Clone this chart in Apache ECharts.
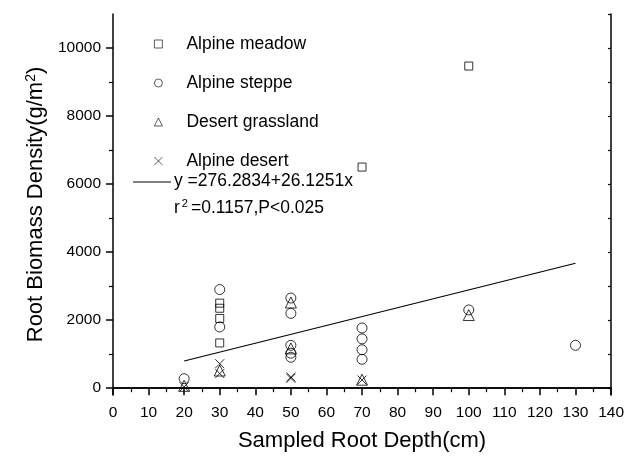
<!DOCTYPE html>
<html><head><meta charset="utf-8">
<script src="https://cdn.jsdelivr.net/npm/echarts@6/dist/echarts.min.js"></script>
<style>html,body{margin:0;padding:0;background:#fff}#c{width:627px;height:467px}</style>
</head><body><div id="c"></div>
<script>
// Data (depth cm, root biomass g/m2)
const alpineMeadow = [[30,2500],[30,2350],[30,2050],[30,1330],[70,6500],[100,9470]];
const alpineSteppe = [[20,280],[30,2900],[30,1800],[50,2650],[50,2200],[50,1260],[50,1030],[50,910],[70,1770],[70,1450],[70,1130],[70,850],[100,2300],[130,1260]];
const desertGrassland = [[20,70],[30,520],[50,2520],[50,1170],[70,250],[100,2150]];
const alpineDesert = [[20,40],[30,720],[30,430],[50,330],[50,290],[70,240]];
const seriesNames = ['Alpine meadow','Alpine steppe','Desert grassland','Alpine desert'];
const fitIntercept = 276.2834, fitSlope = 26.1251;
const fitRange = [20, 130];
const yMajorTicks = [0,2000,4000,6000,8000,10000];
const yMinorTicks = [1000,3000,5000,7000,9000];
const yRightTicks = [0,1000,2000,3000,4000,5000,6000,7000,8000,9000,10000,11000];

const fitLine = fitRange.map(x => [x, fitIntercept + fitSlope * x]);
const FONT = 'Liberation Sans, Arial, sans-serif';
const xPath = 'path://M0,0L10,10M10,0L0,10';
const hollow = {color:'transparent', borderColor:'#000', borderWidth:1};

const chart = echarts.init(document.getElementById('c'), null, {renderer:'canvas'});
chart.setOption({
  animation:false,
  grid:{left:113, right:15, top:14, bottom:72},
  legend:{
    orient:'vertical', left:149, top:29, itemWidth:8, itemHeight:8, itemGap:19,
    data:seriesNames.map(n => ({name:n, itemStyle:{borderWidth:0.8}})),
    textStyle:{fontFamily:FONT, fontSize:17.5, color:'#000', padding:[0,0,0,19], lineHeight:20}
  },
  xAxis:[{
    type:'value', min:0, max:140, interval:10, position:'bottom',
    axisLine:{lineStyle:{color:'#000', width:1.5}},
    axisTick:{inside:false, length:7, lineStyle:{color:'#000', width:1.5}},
    minorTick:{show:true, splitNumber:2, length:4, lineStyle:{color:'#000', width:1.2}},
    axisLabel:{fontFamily:FONT, fontSize:15.5, color:'#000', margin:10},
    splitLine:{show:false},
    name:'Sampled Root Depth(cm)', nameLocation:'middle', nameGap:35,
    nameTextStyle:{fontFamily:FONT, fontSize:22, color:'#000'}
  },{
    type:'value', min:0, max:140, position:'top',
    axisLine:{lineStyle:{color:'#000', width:1.5}},
    axisTick:{show:false}, axisLabel:{show:false}, splitLine:{show:false}
  }],
  yAxis:[{
    type:'value', min:-200, max:11000, position:'left',
    axisLine:{lineStyle:{color:'#000', width:1.5}},
    axisTick:{customValues:yMajorTicks, length:7, lineStyle:{color:'#000', width:1.5}},
    axisLabel:{customValues:yMajorTicks, formatter:v => String(v), fontFamily:FONT, fontSize:15.5, color:'#000', margin:12},
    splitLine:{show:false},
    name:'Root Biomass Density(g/m{sup|2})', nameLocation:'middle', nameGap:64, nameRotate:90,
    nameTextStyle:{fontFamily:FONT, fontSize:22, color:'#000',
      rich:{sup:{fontFamily:FONT, fontSize:14, color:'#000', verticalAlign:'top', padding:[0,0,10,0]}}}
  },{
    type:'value', min:-200, max:11000, position:'left',
    axisLine:{show:false},
    axisTick:{customValues:yMinorTicks, length:4, lineStyle:{color:'#000', width:1.2}},
    axisLabel:{show:false}, splitLine:{show:false}
  },{
    type:'value', min:-200, max:11000, position:'right',
    axisLine:{lineStyle:{color:'#000', width:1.5}},
    axisTick:{customValues:yRightTicks, inside:true, length:3, lineStyle:{color:'#000', width:1.2}},
    axisLabel:{show:false}, splitLine:{show:false}
  }],
  series:[
    {name:seriesNames[0], type:'scatter', data:alpineMeadow, symbol:'rect', symbolSize:8, itemStyle:hollow},
    {name:seriesNames[1], type:'scatter', data:alpineSteppe, symbol:'circle', symbolSize:10, itemStyle:hollow},
    {name:seriesNames[2], type:'scatter', data:desertGrassland, symbol:'triangle', symbolSize:11, itemStyle:hollow},
    {name:seriesNames[3], type:'scatter', data:alpineDesert, symbol:xPath, symbolSize:9, itemStyle:hollow},
    {name:'fit', type:'line', data:fitLine, symbol:'none', lineStyle:{color:'#000', width:1.2}, silent:true}
  ],
  graphic:[
    {type:'line', shape:{x1:133, y1:182, x2:171, y2:182}, style:{stroke:'#000', lineWidth:1}},
    {type:'text', left:174, top:172, style:{text:'y =276.2834+26.1251x', font:'17.5px '+FONT, fill:'#000'}},
    {type:'text', left:174, top:198, style:{
      text:'r{sup|2}=0.1157,P<0.025', font:'17.5px '+FONT, fill:'#000',
      rich:{sup:{fontSize:11, fontFamily:FONT, fill:'#000', verticalAlign:'top', padding:[0,3,9,2]}}}}
  ]
});
</script></body></html>
